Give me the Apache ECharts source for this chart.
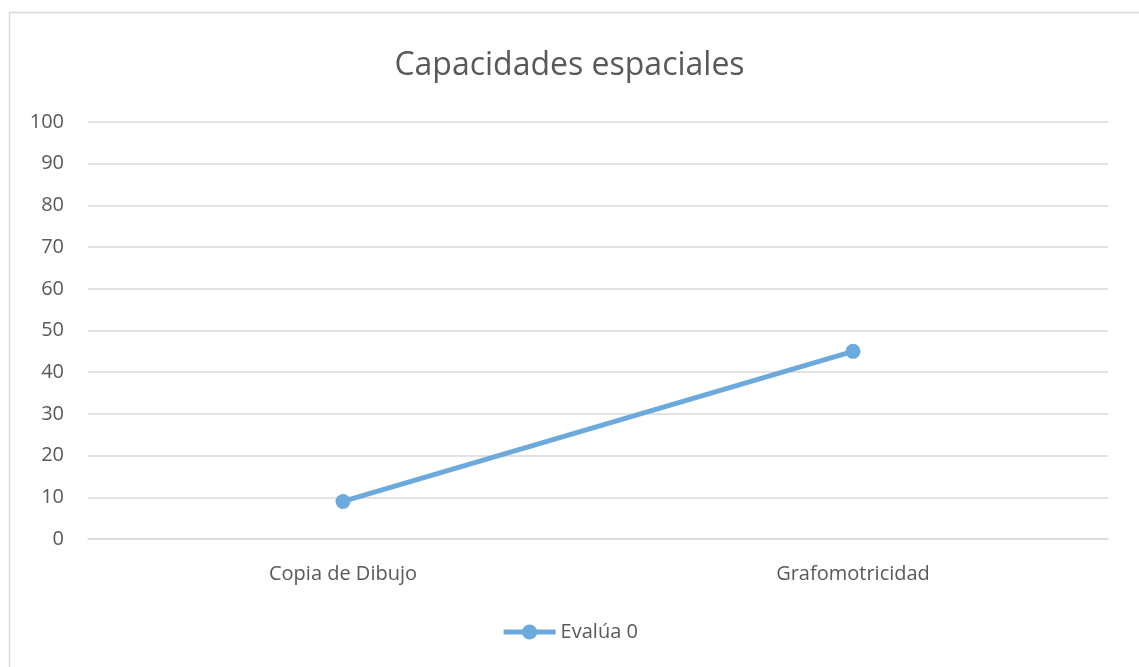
<!DOCTYPE html>
<html>
<head>
<meta charset="utf-8">
<script src="https://cdn.jsdelivr.net/npm/echarts@6/dist/echarts.min.js"></script>
<style>
  html, body { margin: 0; padding: 0; background: #fff; }
  #main { width: 1139px; height: 667px; }
</style>
</head>
<body>
<div id="main"></div>
<script>
// datos
const categorias = ['Copia de Dibujo', 'Grafomotricidad']
const evalua0 = [9, 45]

const chart = echarts.init(document.getElementById('main'))
const gris = '#595959'

chart.setOption({
  textStyle: { fontFamily: 'Open Sans, sans-serif' },
  graphic: [{
    type: 'rect',
    shape: { x: 9.5, y: 12.5, width: 1200, height: 700 },
    style: { fill: 'none', stroke: '#d9d9d9', lineWidth: 1.5 },
    silent: true
  }],
  title: {
    text: 'Capacidades espaciales',
    left: 'center',
    top: 45,
    textStyle: { fontSize: 32, fontWeight: 'normal', color: gris }
  },
  legend: {
    data: ['Evalúa 0'],
    bottom: 20,
    left: 'center',
    itemWidth: 52,
    itemHeight: 19,
    itemGap: 6,
    lineStyle: { width: 5 },
    textStyle: { fontSize: 20, color: gris }
  },
  grid: { left: 88, right: 31, top: 122, bottom: 128 },
  xAxis: {
    type: 'category',
    data: categorias,
    axisLine: { lineStyle: { color: '#d9d9d9', width: 1.5 } },
    axisTick: { show: false },
    axisLabel: { fontSize: 20, color: gris, margin: 25 }
  },
  yAxis: {
    type: 'value',
    min: 0,
    max: 100,
    interval: 10,
    axisLine: { show: false },
    axisTick: { show: false },
    axisLabel: { fontSize: 20, color: gris, margin: 24 },
    splitLine: { lineStyle: { color: '#d9d9d9', width: 1.5 } }
  },
  series: [{
    name: 'Evalúa 0',
    type: 'line',
    data: evalua0,
    symbol: 'circle',
    symbolSize: 15,
    lineStyle: { width: 5, color: '#6ca9dc' },
    itemStyle: { color: '#6ca9dc' }
  }]
})
</script>
</body>
</html>
